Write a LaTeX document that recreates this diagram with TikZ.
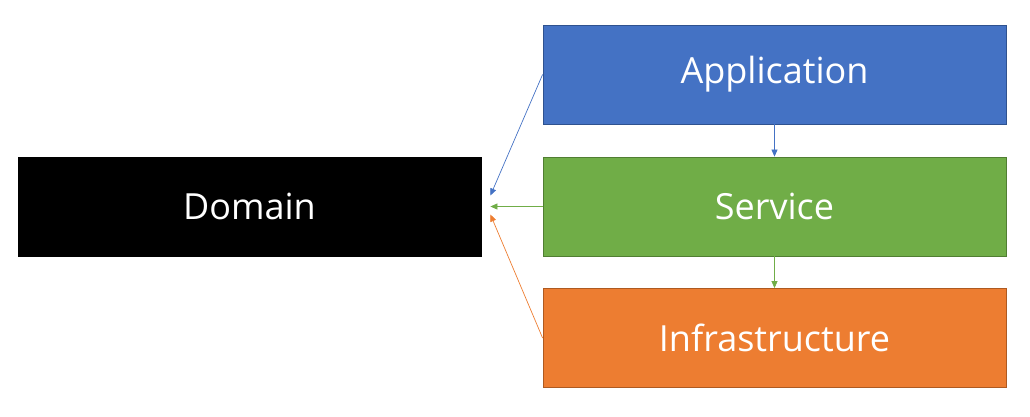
\documentclass[tikz,border=0pt]{standalone}
\usepackage{fontspec}
\setmainfont{Open Sans}
\usetikzlibrary{arrows.meta}
\definecolor{appblue}{HTML}{4472C4}
\definecolor{appblueline}{HTML}{2F528F}
\definecolor{srvgreen}{HTML}{70AD47}
\definecolor{srvgreenline}{HTML}{507E32}
\definecolor{infraorange}{HTML}{ED7D31}
\definecolor{infraorangeline}{HTML}{AE5A21}
\begin{document}
\begin{tikzpicture}[x = 1pt, y = -1pt,
  layer/.style = {minimum width = 463pt, minimum height = 99pt, inner sep = 0pt,
    text = white, font = \fontsize{36}{42}\selectfont, line width = 0.8pt},
  dep/.style = {-{Triangle[length = 7pt, width = 6pt]}, line width = 0.7pt}]
\useasboundingbox (0,0) rectangle (1030,416);
\node[layer, fill = black, draw = black] at (249.5,206.5) (domain) {Domain};
\node[layer, fill = appblue, draw = appblueline] at (774.5,74.5) (app) {Application};
\node[layer, fill = srvgreen, draw = srvgreenline] at (774.5,206.5) (service) {Service};
\node[layer, fill = infraorange, draw = infraorangeline] at (774.5,338) (infra) {Infrastructure};
\coordinate (d1) at ([shift = {(9,-11)}] domain.east);
\coordinate (d2) at ([shift = {(9,0)}] domain.east);
\coordinate (d3) at ([shift = {(9,8)}] domain.east);
\draw[dep, appblue] (app.west) -- (d1);
\draw[dep, srvgreen] (service.west) -- (d2);
\draw[dep, infraorange] (infra.west) -- (d3);
\draw[dep, appblue] (app.south) -- (service.north);
\draw[dep, srvgreen] (service.south) -- (infra.north);
\end{tikzpicture}
\end{document}
